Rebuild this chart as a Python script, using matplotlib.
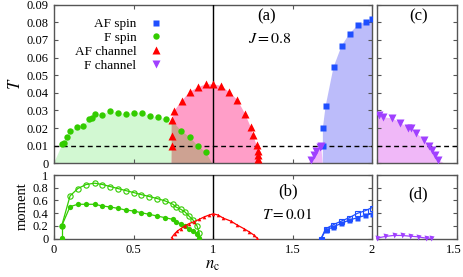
import numpy as np
import matplotlib
matplotlib.use("Agg")
import matplotlib.pyplot as plt
import matplotlib.transforms as mtransforms

plt.rcParams['font.family'] = ['Liberation Serif', 'DejaVu Serif']
plt.rcParams['mathtext.fontset'] = 'stix'

# ---- panel (a): transition temperatures ----
fspin_n = [0.053, 0.063, 0.08, 0.101, 0.143, 0.181, 0.221, 0.242, 0.261, 0.303, 0.352,
           0.402, 0.453, 0.503, 0.554, 0.602, 0.653, 0.703, 0.80, 0.855, 0.905, 0.954]
fspin_T = [0.0108, 0.0113, 0.0151, 0.0183, 0.0206, 0.0213, 0.025, 0.0255, 0.0278, 0.0274, 0.0295,
           0.0287, 0.0278, 0.0287, 0.0287, 0.0268, 0.0261, 0.0251, 0.0183, 0.0148, 0.0098, 0.0064]

afch_n = [0.743, 0.74, 0.743, 0.756, 0.804, 0.855, 0.905, 0.954, 1.002, 1.053, 1.103, 1.154,
          1.202, 1.238, 1.253, 1.274, 1.284, 1.285, 1.286]
afch_T = [0.010, 0.0155, 0.0246, 0.0297, 0.0354, 0.0406, 0.0431, 0.0448, 0.0448, 0.0439, 0.0403, 0.0359,
          0.028, 0.0204, 0.0159, 0.0102, 0.0072, 0.0049, 0.0026]

afspin_n = [1.691, 1.691, 1.708, 1.758, 1.809, 1.859, 1.910, 1.960, 2.0]
afspin_T = [0.0098, 0.020, 0.0323, 0.0545, 0.0667, 0.0736, 0.0783, 0.0804, 0.0817]

fch_n = [1.617, 1.634, 1.649, 1.67, 1.68]
fch_T = [0.0019, 0.0045, 0.0072, 0.0094, 0.010]

# panel (c): F channel on the second axis
fch2_n = [1.014, 1.042, 1.097, 1.147, 1.196, 1.215, 1.246, 1.294, 1.326, 1.343, 1.362, 1.385]
fch2_T = [0.0274, 0.0261, 0.0255, 0.023, 0.0202, 0.0199, 0.0174, 0.0132, 0.0098, 0.0074, 0.0047, 0.0019]

# edges of the shaded regions
green_edge_n = [0.0, 0.995]
pink_edge_n = [0.74, 1.29]
overlap_start = (0.74, 0.0246)
blue_edge_n = 1.69
purple_edge_n = 1.60
purple2_edge = [(1.0, 0.0285), 1.42]

T_ticks = [0, 0.01, 0.02, 0.03, 0.04, 0.05, 0.06, 0.07, 0.08, 0.09]
T_labels = ['0', '0.01', '0.02', '0.03', '0.04', '0.05', '0.06', '0.07', '0.08', '0.09']

# ---- panel (b): moments at T = 0.01 ----
m_n = [0.048, 0.101, 0.15, 0.202, 0.255, 0.305, 0.354, 0.402, 0.45, 0.501, 0.549, 0.60,
       0.65, 0.699, 0.748, 0.767, 0.798, 0.824, 0.849, 0.875, 0.90, 0.913]
m_green_open = [0.196, 0.672, 0.789, 0.852, 0.873, 0.852, 0.82, 0.789, 0.757, 0.725, 0.693, 0.662,
                0.63, 0.593, 0.54, 0.497, 0.46, 0.418, 0.354, 0.29, 0.196, 0.09]
m_green_fill = [0.196, 0.503, 0.54, 0.54, 0.54, 0.513, 0.497, 0.476, 0.45, 0.434, 0.407, 0.381,
                0.354, 0.328, 0.302, 0.26, 0.233, 0.196, 0.154, 0.116, 0.074, 0.011]
m_green_zero = (0.048, 0.005)

m_red_n = [0.739, 0.758, 0.775, 0.796, 0.821, 0.848, 0.88, 0.911, 0.943, 0.975, 1.002, 1.032,
           1.066, 1.112, 1.154, 1.196, 1.227, 1.255, 1.276]
m_red = [0.011, 0.074, 0.116, 0.153, 0.196, 0.233, 0.265, 0.30, 0.339, 0.37, 0.39, 0.37,
         0.32, 0.275, 0.21, 0.153, 0.106, 0.058, 0.011]

m_blue_n = [1.68, 1.708, 1.756, 1.807, 1.857, 1.908, 1.958, 2.0]
m_blue_fill = [0.0, 0.127, 0.185, 0.238, 0.291, 0.328, 0.365, 0.392]
m_blue_open = [0.0, 0.153, 0.217, 0.275, 0.328, 0.397, 0.439, 0.487]

m_purple_n = [1.0, 1.053, 1.105, 1.158, 1.206, 1.257, 1.31, 1.342]
m_purple = [0.005, 0.032, 0.048, 0.048, 0.037, 0.027, 0.005, 0.005]

c_green = '#33cc00'
c_red = '#ff0000'
c_blue = '#1f4fff'
c_purple = '#a040ff'
f_green = '#d2f8d2'
f_pink = '#ff9ec8'
f_brown = '#cda292'
f_blue = '#bcbcfa'
f_purple = '#f0b8f8'
spine_c = '#555555'

fig = plt.figure(figsize=(4.63, 2.77), dpi=100)
W, H = 463.0, 277.0
ax_a = fig.add_axes([54 / W, 1 - 163.3 / H, 318 / W, 158.6 / H])
ax_c = fig.add_axes([376.7 / W, 1 - 163.3 / H, 80 / W, 158.6 / H])
ax_b = fig.add_axes([54 / W, 1 - 238.5 / H, 318 / W, 64 / H])
ax_d = fig.add_axes([376.7 / W, 1 - 238.5 / H, 80 / W, 64 / H])

for ax in (ax_a, ax_b, ax_c, ax_d):
    for s in ax.spines.values():
        s.set_color(spine_c)
        s.set_linewidth(1.0)
    ax.tick_params(direction='in', top=True, right=True, length=3, width=0.8,
                   color=spine_c, labelsize=9, pad=4)

# ----- (a) -----
gn = [green_edge_n[0]] + fspin_n + [green_edge_n[1]]
gT = [0] + fspin_T + [0]
ax_a.fill(gn, gT, color=f_green, lw=0, zorder=1)
pn = [pink_edge_n[0]] + afch_n + [pink_edge_n[1]]
pT = [0] + afch_T + [0]
ax_a.fill(pn, pT, color=f_pink, lw=0, zorder=1.2)
ov_n = [overlap_start[0], overlap_start[0]] + [x for x in fspin_n if x > overlap_start[0]] + [green_edge_n[1]]
ov_T = [0, overlap_start[1]] + [t for x, t in zip(fspin_n, fspin_T) if x > overlap_start[0]] + [0]
ax_a.fill(ov_n, ov_T, color=f_brown, lw=0, zorder=1.3)
bn = [blue_edge_n] + afspin_n + [afspin_n[-1]]
bT = [0] + afspin_T + [0]
ax_a.fill(bn, bT, color=f_blue, lw=0, zorder=1)
qn = [purple_edge_n] + fch_n + [blue_edge_n]
qT = [0] + fch_T + [0]
ax_a.fill(qn, qT, color=f_purple, lw=0, zorder=1)

ax_a.plot(afspin_n, afspin_T, 's', color=c_blue, ms=4.2, mec='none', label='AF spin', zorder=4)
ax_a.plot(fspin_n, fspin_T, 'o', color=c_green, ms=4.6, mec='none', label='F spin', zorder=4)
ax_a.plot(afch_n, afch_T, '^', color=c_red, ms=5.2, mec='none', label='AF channel', zorder=4)
ax_a.plot(fch_n, fch_T, 'v', color=c_purple, ms=5.2, mec='none', label='F channel', zorder=4)

ax_a.axhline(0.01, color='black', ls=(0, (3.5, 2.5)), lw=1.0, zorder=3)
ax_a.axvline(1.0, color='black', lw=1.0, zorder=3)
ax_a.set_xlim(0, 2)
ax_a.set_ylim(0, 0.09)
ax_a.set_xticks([0, 0.5, 1, 1.5, 2])
ax_a.set_xticklabels([])
ax_a.set_yticks(T_ticks)
ax_a.set_yticklabels(T_labels)
ax_a.set_ylabel('$T$', fontsize=12, labelpad=2)
ax_a.text(1.34, 0.0835, '(a)', fontsize=12, ha='center', va='center')
ax_a.text(1.36, 0.0705, '$J=0.8$', fontsize=11.5, ha='center', va='center')
ax_a.legend(loc='upper right', bbox_to_anchor=(0.375, 0.975), frameon=False, markerfirst=False,
            fontsize=9.5, handletextpad=0.9, labelspacing=0.12, borderpad=0.2, handlelength=1.2)

# ----- (c) -----
cn = [purple2_edge[0][0], purple2_edge[0][0]] + fch2_n + [purple2_edge[1]]
cT = [0, purple2_edge[0][1]] + fch2_T + [0]
ax_c.fill(cn, cT, color=f_purple, lw=0, zorder=1)
ax_c.plot(fch2_n, fch2_T, 'v', color=c_purple, ms=5.2, mec='none', zorder=4)
ax_c.axhline(0.01, color='black', ls=(0, (3.5, 2.5)), lw=1.0, zorder=3)
ax_c.set_xlim(1, 1.5)
ax_c.set_ylim(0, 0.09)
ax_c.set_xticks([1, 1.5])
ax_c.set_xticklabels([])
ax_c.set_yticks(T_ticks)
ax_c.set_yticklabels([])
ax_c.text(1.26, 0.0835, '(c)', fontsize=12, ha='center', va='center')

# ----- (b) -----
ax_b.plot(m_n, m_green_open, 'o-', color=c_green, mfc='none', ms=3.8, lw=0.9, mew=0.8, zorder=4)
ax_b.plot(m_n, m_green_fill, 'o-', color=c_green, ms=3.8, lw=0.9, mec='none', zorder=4)
ax_b.plot([m_green_zero[0], m_n[0]], [m_green_zero[1], m_green_fill[0]], 'o-', color=c_green,
          ms=3.8, lw=0.9, mec='none', zorder=4)
ax_b.plot(m_red_n, m_red, '^-', color=c_red, ms=2.6, lw=0.9, mec='none', zorder=4)
ax_b.plot(m_blue_n, m_blue_open, 's-', color=c_blue, mfc='none', ms=3.6, lw=0.9, mew=0.8, zorder=4)
ax_b.plot(m_blue_n, m_blue_fill, 's-', color=c_blue, ms=3.6, lw=0.9, mec='none', zorder=4)
ax_b.axvline(1.0, color='black', lw=1.0, zorder=3)
ax_b.set_xlim(0, 2)
ax_b.set_ylim(0, 1.01)
ax_b.set_xticks([0, 0.5, 1, 1.5, 2])
ax_b.set_xticklabels(['0', '0.5', '1', '1.5', '2'])
ax_b.set_yticks([0, 0.2, 0.4, 0.6, 0.8, 1])
ax_b.set_yticklabels(['0', '0.2', '0.4', '0.6', '0.8', '1'])
ax_b.set_ylabel('moment', fontsize=10.5, labelpad=3)
ax_b.set_xlabel('$n_{\\rm c}$', fontsize=12, labelpad=1)
ax_b.text(1.47, 0.74, '(b)', fontsize=12, ha='center', va='center')
ax_b.text(1.47, 0.38, '$T=0.01$', fontsize=11, ha='center', va='center')

# ----- (d) -----
ax_d.plot(m_purple_n, m_purple, 'v-', color=c_purple, ms=3.6, lw=0.9, mec='none', zorder=4,
          clip_on=False)
ax_d.set_xlim(1, 1.5)
ax_d.set_ylim(0, 1.01)
ax_d.set_xticks([1, 1.5])
ax_d.set_xticklabels(['', '1.5'])
shift = mtransforms.ScaledTranslation(5 / 100, 0, fig.dpi_scale_trans)
for lbl in ax_d.get_xticklabels():
    lbl.set_ha('right')
    lbl.set_transform(lbl.get_transform() + shift)
ax_d.set_yticks([0, 0.2, 0.4, 0.6, 0.8, 1])
ax_d.set_yticklabels([])
ax_d.text(1.26, 0.7, '(d)', fontsize=12, ha='center', va='center')

fig.savefig('out.png', dpi=100)
